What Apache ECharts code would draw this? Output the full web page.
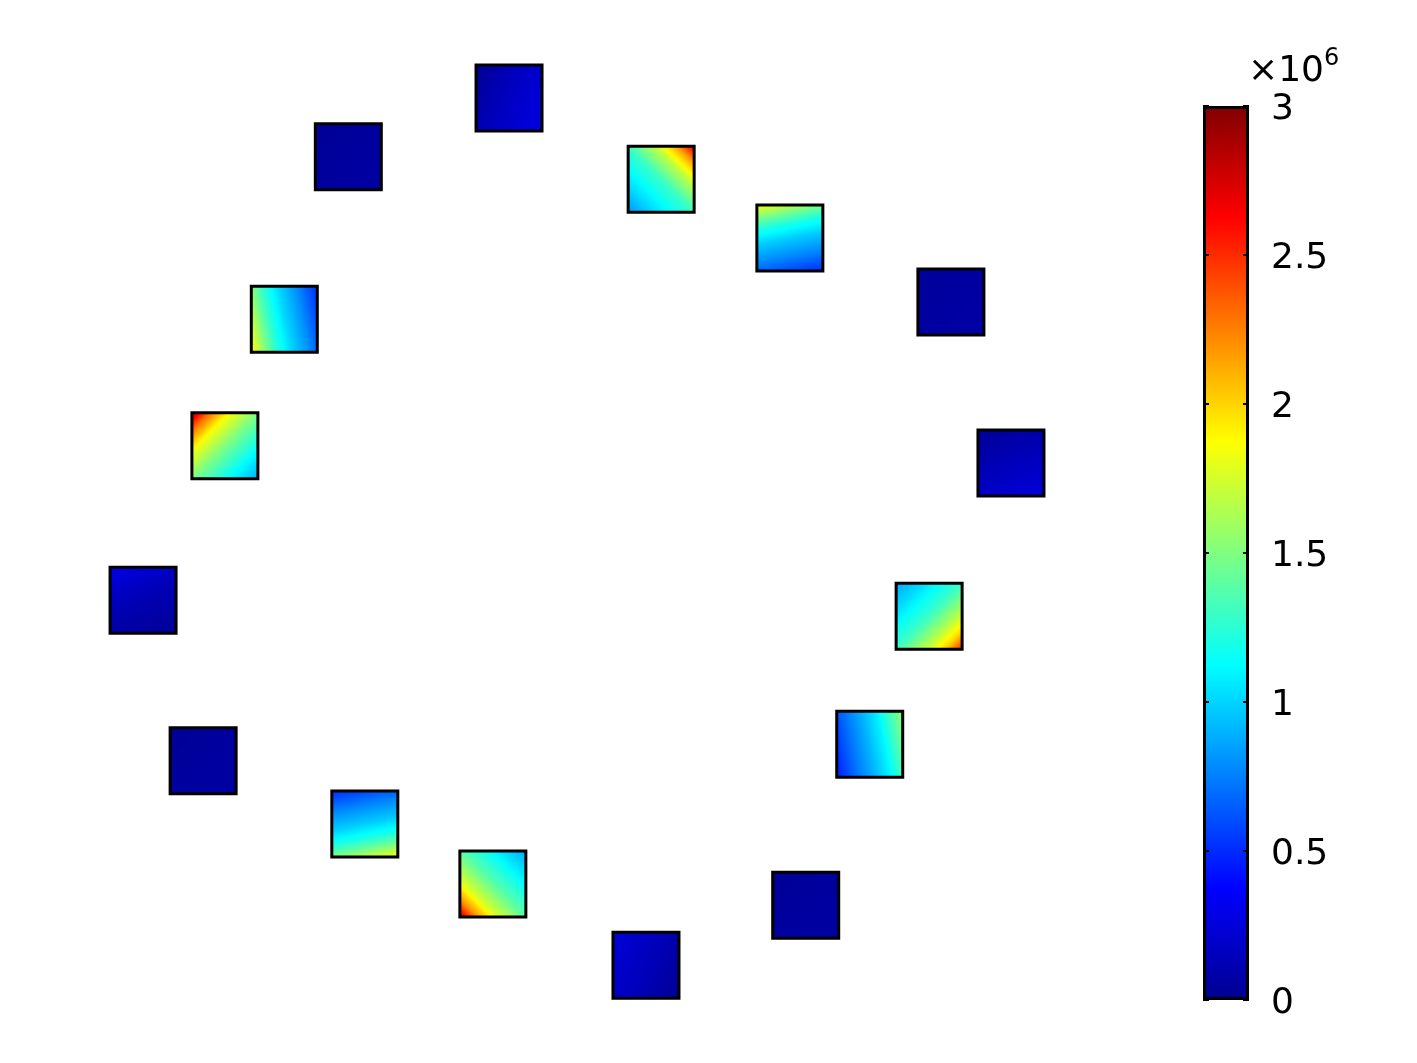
<!DOCTYPE html>
<html><head><meta charset="utf-8">
<script src="https://cdn.jsdelivr.net/npm/echarts@6/dist/echarts.min.js"></script>
<style>html,body{margin:0;padding:0;background:#fff}#c{width:1417px;height:1063px}</style>
</head><body><div id="c"></div>
<script>
// ---- data ----
// square centres in geometry units (square side = 10 units)
const squareX = [-10.45, -34.8, 12.6, 32.1, 56.5, -44.5, -53.5, 65.6, -65.9, 53.2, -56.8, 44.2, -32.3, -12.9, 34.5, 10.3];
const squareY = [65.6, 56.7, 53.3, 44.4, 34.7, 32.1, 12.9, 10.3, -10.5, -12.9, -34.8, -32.3, -44.4, -53.5, -56.7, -65.8];
// field direction in each square (from corner-fraction point to point)
const gradDir = [
  [0,0.3,1,0.7],[0,0,1,1],[1,0,0,1],[0.4,0,0.6,1],
  [0,0,1,1],[0,0.6,1,0.4],[0,0,1,1],[0.3,0,0.7,1],
  [0.3,0,0.7,1],[1,1,0,0],[0,0,1,1],[1,0.4,0,0.6],
  [0.6,1,0.4,0],[0,1,1,0],[0,0,1,1],[1,0.7,0,0.3]
];
// positions along the direction at which values are read
const stopT = [0, 0.15, 0.3, 0.5, 0.75, 1];
// values (×10^6) read at stopT for each square
const stressVals = [
  [0.03,0.07,0.12,0.17,0.22,0.27],
  [0.02,0.03,0.04,0.05,0.06,0.07],
  [2.8,2.15,1.7,1.3,1.05,0.8],
  [1.75,1.45,1.2,0.98,0.78,0.55],
  [0.03,0.04,0.05,0.06,0.07,0.08],
  [1.8,1.5,1.25,1.02,0.8,0.55],
  [2.95,2.3,1.85,1.5,1.15,0.85],
  [0.04,0.07,0.1,0.14,0.19,0.24],
  [0.27,0.22,0.17,0.12,0.08,0.04],
  [2.6,2.0,1.65,1.3,1.05,0.85],
  [0.02,0.03,0.04,0.05,0.06,0.06],
  [1.5,1.3,1.1,0.92,0.72,0.5],
  [1.75,1.45,1.2,0.98,0.78,0.55],
  [2.9,2.2,1.75,1.4,1.1,0.85],
  [0.02,0.03,0.04,0.05,0.06,0.06],
  [0.03,0.07,0.11,0.15,0.19,0.23]
];
const cbMin = 0, cbMax = 3;
const cbTickLabels = ['0','0.5','1','1.5','2','2.5','3'];
// jet colour map stops (fraction, rgb)
const jetStops = [
  [0, [0,0,143]], [0.125, [0,0,255]], [0.375, [0,255,255]],
  [0.625, [255,255,0]], [0.875, [255,0,0]], [1, [128,0,0]]
];

// ---- helpers ----
function jet(v) {
  let f = (v - cbMin) / (cbMax - cbMin);
  f = Math.max(0, Math.min(1, f));
  for (let i = 1; i < jetStops.length; i++) {
    const a = jetStops[i-1], b = jetStops[i];
    if (f <= b[0]) {
      const t = (f - a[0]) / (b[0] - a[0]);
      const c = a[1].map((x, k) => Math.round(x + (b[1][k] - x) * t));
      return 'rgb(' + c.join(',') + ')';
    }
  }
  return 'rgb(128,0,0)';
}
function buildStops(vals) {
  const out = [];
  const SUB = 6;
  for (let i = 0; i < stopT.length - 1; i++) {
    for (let s = 0; s < SUB; s++) {
      const t = s / SUB;
      out.push({offset: stopT[i] + (stopT[i+1] - stopT[i]) * t, color: jet(vals[i] + (vals[i+1] - vals[i]) * t)});
    }
  }
  out.push({offset: 1, color: jet(vals[vals.length-1])});
  return out;
}

const squareData = squareX.map((x, i) => [x, squareY[i], i]);
const HALF = 5;

const chart = echarts.init(document.getElementById('c'));
const FONT = 'DejaVu Sans';
chart.setOption({
  backgroundColor: '#fff',
  animation: false,
  grid: [
    {left: 17, top: 3, width: 1122, height: 1056},
    {left: 1203, top: 106, width: 46, height: 894}
  ],
  xAxis: [
    {type: 'value', gridIndex: 0, min: -85, max: 85, show: false},
    {type: 'category', gridIndex: 1, data: [''], show: false}
  ],
  yAxis: [
    {type: 'value', gridIndex: 0, min: -80, max: 80, show: false},
    {type: 'value', gridIndex: 1, min: cbMin, max: cbMax, interval: 0.5, position: 'right', z: 5,
      axisLine: {show: false}, splitLine: {show: false},
      axisTick: {show: true, inside: true, length: 6, lineStyle: {color: '#000', width: 2}},
      axisLabel: {show: true, margin: 22, color: '#000', fontFamily: FONT, fontSize: 36,
        verticalAlign: 'top', lineHeight: 8,
        formatter: (v) => cbTickLabels[Math.round(v / 0.5)] }},
    {type: 'value', gridIndex: 1, min: cbMin, max: cbMax, interval: 0.5, position: 'left', z: 5,
      axisLine: {show: false}, splitLine: {show: false}, axisLabel: {show: false},
      axisTick: {show: true, inside: true, length: 6, lineStyle: {color: '#000', width: 2}}}
  ],
  series: [
    {
      type: 'custom', xAxisIndex: 0, yAxisIndex: 0, data: squareData,
      renderItem: function (params, api) {
        const x = api.value(0), y = api.value(1), i = api.value(2);
        const p0 = api.coord([x - HALF, y + HALF]);
        const p1 = api.coord([x + HALF, y - HALF]);
        const g = gradDir[i];
        return {
          type: 'rect',
          shape: {x: p0[0], y: p0[1], width: p1[0] - p0[0], height: p1[1] - p0[1]},
          style: {fill: new echarts.graphic.LinearGradient(g[0], g[1], g[2], g[3], buildStops(stressVals[i])),
                  stroke: '#000', lineWidth: 3}
        };
      }
    },
    {
      type: 'bar', xAxisIndex: 1, yAxisIndex: 1, data: [cbMax], barWidth: '100%', z: 2,
      itemStyle: {
        color: new echarts.graphic.LinearGradient(0, 0, 0, 1,
          jetStops.slice().reverse().map(s => ({offset: 1 - s[0], color: 'rgb(' + s[1].join(',') + ')'}))),
        borderColor: '#000', borderWidth: 3
      }
    }
  ],
  graphic: [
    {type: 'text', left: 1248, top: 54, style: {text: '×10', font: '36px "DejaVu Sans"', fill: '#000'}},
    {type: 'text', left: 1324, top: 47, style: {text: '6', font: '24px "DejaVu Sans"', fill: '#000'}}
  ]
});
</script></body></html>
